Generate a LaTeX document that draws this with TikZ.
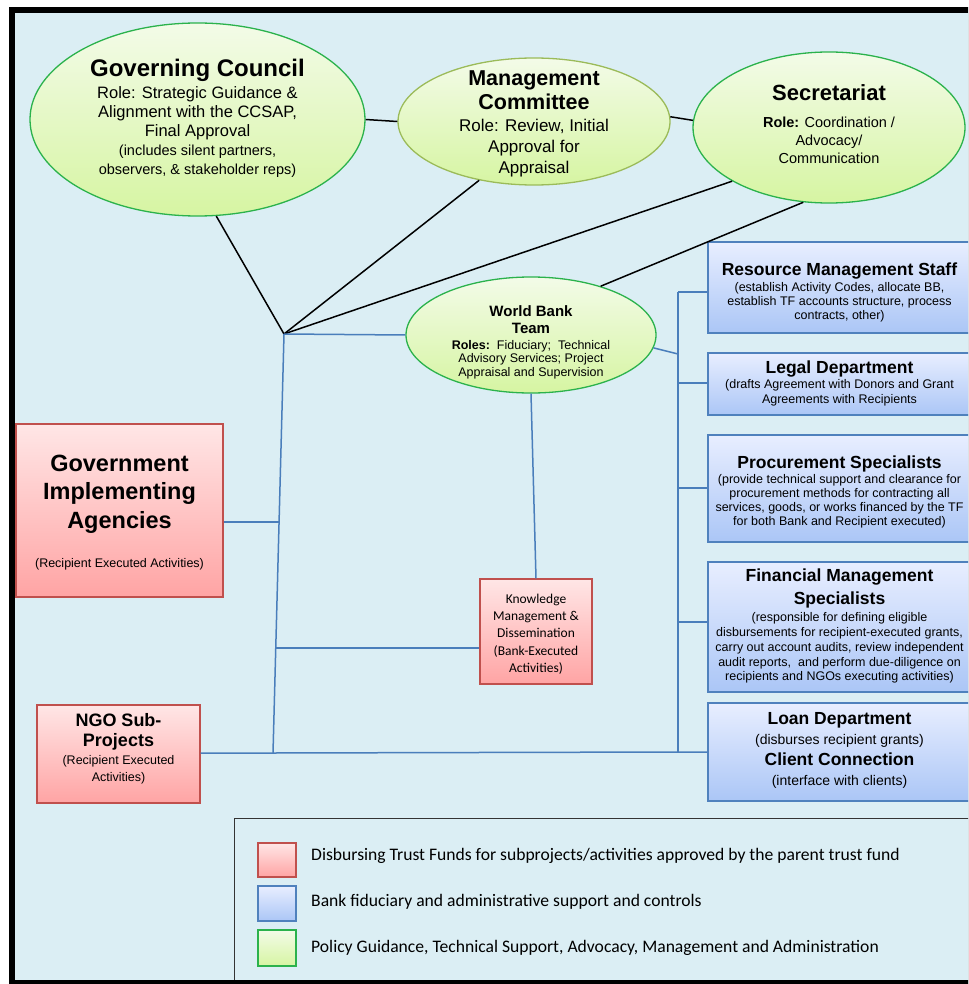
\documentclass[tikz,border=0pt]{standalone}
\usepackage{fontspec}
\setmainfont{Liberation Sans}
\newfontfamily\calfont{Carlito}
\usetikzlibrary{shapes.geometric,calc}
\definecolor{bg}{HTML}{DBEEF4}
\definecolor{gtop}{HTML}{F3FBE8}
\definecolor{gbot}{HTML}{D6F5A2}
\definecolor{gline}{HTML}{2BB24C}
\definecolor{oline}{HTML}{9BBB59}
\definecolor{rtop}{HTML}{FFE6E6}
\definecolor{rbot}{HTML}{FFA4A4}
\definecolor{rline}{HTML}{C0504D}
\definecolor{btop}{HTML}{E8EEFF}
\definecolor{bbot}{HTML}{ABC6F6}
\definecolor{bline}{HTML}{4F81BD}
\definecolor{conn}{HTML}{4A7EBB}
\begin{document}
\begin{tikzpicture}[x=1pt,y=-1pt,
  ell/.style={ellipse, draw=gline, line width=1.3pt, top color=gtop, bottom color=gbot, inner sep=0pt},
  rbox/.style={rectangle, draw=rline, line width=1.3pt, top color=rtop, bottom color=rbot, inner sep=0pt},
  bbox/.style={rectangle, draw=bline, line width=1.3pt, top color=btop, bottom color=bbot, inner sep=0pt},
  gbox/.style={rectangle, draw=gline, line width=1.3pt, top color=gtop, bottom color=gbot, inner sep=0pt},
  txt/.style={inner sep=0pt, align=center, text=black},
  blk/.style={draw=black, line width=1.5pt},
  blu/.style={draw=conn, line width=1.5pt}]
\useasboundingbox (0,0) rectangle (968,984);
\clip (0,0) rectangle (968,984);
\fill[white] (0,0) rectangle (968,984);
\fill[black] (9,7) rectangle (1000,1000);
\fill[bg] (15,13) rectangle (1000,980);
% legend frame
\draw[draw=black!80, line width=1pt] (234,818) rectangle (1000,1000);
\fill[black] (9,980) rectangle (1000,1000);

% ellipses
\node[ell, minimum width=335, minimum height=193] (GC) at (197.5,119.5) {};
\node[ell, draw=oline, minimum width=272, minimum height=127] (MC) at (534,121.5) {};
\node[ell, minimum width=272, minimum height=151] (SEC) at (829,127.5) {};
\node[ell, minimum width=250, minimum height=116] (WB) at (531,335) {};

\node[txt, font=\fontsize{16.5}{19}\selectfont] (GCt) at (197.5,118.3)
  {{\fontsize{24}{28}\selectfont\bfseries Governing Council}\\[2.4pt]
   Role: Strategic Guidance \&\\ Alignment with the CCSAP,\\ Final Approval\\
   {\fontsize{14.5}{18}\selectfont (includes silent partners,}\\
   {\fontsize{14.5}{18}\selectfont observers, \& stakeholder reps)}};
\node[txt, font=\fontsize{17}{21}\selectfont] (MCt) at (534,124)
  {{\fontsize{21.5}{24}\selectfont\bfseries Management}\\[3pt]
   {\fontsize{21.5}{24}\selectfont\bfseries Committee}\\[1.5pt]
   Role: Review, Initial\\ Approval for\\ Appraisal};
\node[txt, font=\fontsize{14.5}{18}\selectfont] (SECt) at (829,124.5)
  {{\fontsize{22}{24}\selectfont\bfseries Secretariat}\\[9pt]
   \textbf{Role:} Coordination /\\ Advocacy/\\ Communication};
\node[txt, font=\fontsize{12.5}{13.5}\selectfont] (WBt) at (531,342)
  {{\fontsize{15}{17}\selectfont\bfseries World Bank}\\[3.5pt]
   {\fontsize{15}{17}\selectfont\bfseries Team}\\[2.5pt]
   \textbf{Roles:}\ \ Fiduciary;\ \ Technical\\ Advisory Services; Project\\ Appraisal and Supervision};

% red boxes
\node[rbox, minimum width=207, minimum height=173] (GIA) at (119.5,510.5) {};
\node[txt, font=\fontsize{23.5}{28.5}\selectfont\bfseries] (GIAt) at (119.5,512.5)
  {Government\\ Implementing\\ Agencies\\[10.5pt]
   {\fontsize{12.5}{14}\selectfont\mdseries (Recipient Executed Activities)}};
\node[rbox, minimum width=163, minimum height=98] (NGO) at (118.5,754) {};
\node[txt, font=\fontsize{12.5}{17.5}\selectfont] (NGOt) at (118.5,749)
  {{\fontsize{18}{20}\selectfont\bfseries NGO Sub-}\\[2.5pt]
   {\fontsize{18}{20}\selectfont\bfseries Projects}\\[0.5pt]
   (Recipient Executed\\ Activities)};
\node[rbox, minimum width=112, minimum height=105] (KM) at (536,631.5) {};
\node[txt, font=\calfont\fontsize{13.5}{17.25}\selectfont] (KMt) at (536,634)
  {Knowledge\\ Management \&\\ Dissemination\\ (Bank-Executed\\ Activities)};

% blue boxes
\node[bbox, minimum width=263, minimum height=91] (RMS) at (839.5,287.5) {};
\node[txt, font=\fontsize{12.5}{14}\selectfont] (RMSt) at (839.5,292.4)
  {{\fontsize{17.5}{20}\selectfont\bfseries Resource Management Staff}\\[2.2pt]
   (establish Activity Codes, allocate BB,\\ establish TF accounts structure, process\\ contracts, other)};
\node[bbox, minimum width=263, minimum height=62] (LEG) at (839.5,384) {};
\node[txt, font=\fontsize{12.5}{15}\selectfont] (LEGt) at (839.5,383.2)
  {{\fontsize{17.5}{20}\selectfont\bfseries Legal Department}\\
   (drafts Agreement with Donors and Grant\\ Agreements with Recipients};
\node[bbox, minimum width=263, minimum height=107] (PRO) at (839.5,488.5) {};
\node[txt, font=\fontsize{12.5}{14}\selectfont] (PROt) at (839.5,491.9)
  {{\fontsize{17.5}{20}\selectfont\bfseries Procurement Specialists}\\[1.2pt]
   (provide technical support and clearance for\\ procurement methods for contracting all\\
   services, goods, or works financed by the TF\\ for both Bank and Recipient executed)};
\node[bbox, minimum width=263, minimum height=130] (FMS) at (839.5,627) {};
\node[txt, font=\fontsize{12.5}{14.8}\selectfont] (FMSt) at (839.5,626.4)
  {{\fontsize{17.5}{20}\selectfont\bfseries Financial Management}\\[5.2pt]
   {\fontsize{17.5}{20}\selectfont\bfseries Specialists}\\[2.4pt]
   (responsible for defining eligible\\ disbursements for recipient-executed grants,\\
   carry out account audits, review independent\\ audit reports,\ \ and perform due-diligence on\\
   recipients and NGOs executing activities)};
\node[bbox, minimum width=263, minimum height=98] (LOAN) at (839.5,752) {};
\node[txt, font=\fontsize{14}{20.5}\selectfont] (LOANt) at (839.5,750.4)
  {{\fontsize{17.5}{20}\selectfont\bfseries Loan Department}\\
   (disburses recipient grants)\\
   {\fontsize{17.5}{20}\selectfont\bfseries Client Connection}\\
   (interface with clients)};

% connector coordinates
\coordinate (hub) at (284,334);
\coordinate (busL) at (273,753);
\coordinate (jG) at (279,522);
\coordinate (jK) at (276,648);
\coordinate (busRt) at (678,292);
\coordinate (busRb) at (678,752);
\coordinate (jW) at (678,354);
\coordinate (jL) at (678,383);
\coordinate (jP) at (678,488);
\coordinate (jF) at (678,622);

% black connectors
\draw[blk] (GC.east) -- (MC.west);
\draw[blk] (MC.2) -- (SEC.177);
\draw[blk] (hub) -- (GC.-79);
\draw[blk] (hub) -- (MC.-133);
\draw[blk] (hub) -- (SEC.-151);
\draw[blk] (WB.35) -- (SEC.-109);

% blue connectors
\draw[blu] (hub) -- (busL);
\draw[blu] (hub) -- (WB.west);
\draw[blu] (GIA.east |- jG) -- (jG);
\draw[blu] (jK) -- (jK -| KM.west);
\draw[blu] (NGO.east |- busL) -- (busL) -- (busRb) -- (busRb -| LOAN.west);
\draw[blu] (busRt) -- (busRb);
\draw[blu] (busRt) -- (busRt -| RMS.west);
\draw[blu] (jL) -- (jL -| LEG.west);
\draw[blu] (jP) -- (jP -| PRO.west);
\draw[blu] (jF) -- (jF -| FMS.west);
\draw[blu] (WB.-6) -- (jW);
\draw[blu] (WB.south) -- (KM.north);

% legend
\node[rbox, minimum width=38, minimum height=34] (legR) at (277,860) {};
\node[bbox, minimum width=38, minimum height=35] (legB) at (277,903.5) {};
\node[gbox, minimum width=38, minimum height=36] (legG) at (277,948) {};
\node[txt, anchor=west, font=\calfont\fontsize{17.6}{20}\selectfont] (legRt) at (311,856)
  {Disbursing Trust Funds for subprojects/activities approved by the parent trust fund};
\node[txt, anchor=west, font=\calfont\fontsize{17.6}{20}\selectfont] (legBt) at (311,902)
  {Bank fiduciary and administrative support and controls};
\node[txt, anchor=west, font=\calfont\fontsize{17.6}{20}\selectfont] (legGt) at (311,948)
  {Policy Guidance, Technical Support, Advocacy, Management and Administration};
\end{tikzpicture}
\end{document}
